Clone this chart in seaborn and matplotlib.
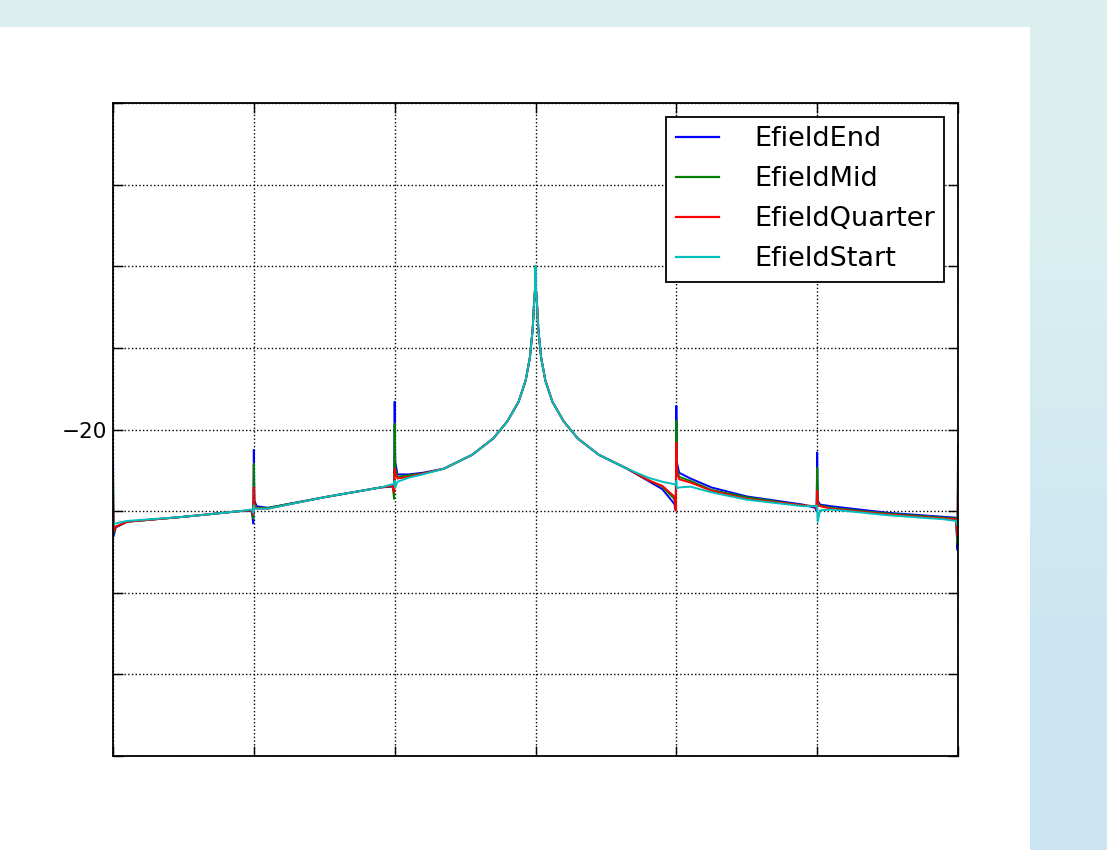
import numpy as np
import pandas as pd
import seaborn as sns
from matplotlib import pyplot as plt
from matplotlib.patches import Rectangle

# positions along the line (grid cells of 1)
x = [0.0, 0.004, 0.02, 0.1, 0.5, 0.9, 0.985, 0.996, 1.0, 1.004, 1.02, 1.1, 1.5, 1.9,
     1.985, 1.996, 2.0, 2.004, 2.02, 2.1, 2.2, 2.35, 2.55, 2.7, 2.8, 2.88, 2.93, 2.96,
     2.98, 2.99, 2.996, 3.0, 3.004, 3.01, 3.02, 3.04, 3.07, 3.12, 3.2, 3.3, 3.45, 3.65,
     3.8, 3.9, 3.985, 3.996, 4.0, 4.004, 4.02, 4.1, 4.25, 4.5, 4.9, 4.985, 4.996, 5.0,
     5.004, 5.02, 5.1, 5.5, 5.9, 5.985, 5.997, 6.0]

efield_end = [-20.38, -21.31, -21.20, -21.13, -21.07, -21.00, -21.00, -21.15, -20.25, -20.87,
              -20.94, -20.96, -20.83, -20.71, -20.70, -20.77, -19.66, -20.40, -20.55, -20.55,
              -20.53, -20.48, -20.31, -20.11, -19.90, -19.66, -19.40, -19.12, -18.77, -18.44,
              -18.30, -18.00, -18.30, -18.44, -18.77, -19.12, -19.40, -19.66, -19.90, -20.11,
              -20.31, -20.48, -20.63, -20.73, -20.91, -20.99, -19.71, -20.40, -20.53, -20.60,
              -20.71, -20.82, -20.92, -20.96, -21.00, -20.28, -20.87, -20.92, -20.94, -21.02,
              -21.07, -21.08, -21.48, -20.17]
efield_mid = [-20.56, -21.27, -21.19, -21.13, -21.07, -21.00, -20.99, -21.09, -20.42, -20.91,
              -20.96, -20.96, -20.83, -20.71, -20.69, -20.85, -19.93, -20.48, -20.58, -20.56,
              -20.54, -20.48, -20.31, -20.11, -19.90, -19.66, -19.40, -19.12, -18.77, -18.44,
              -18.30, -18.00, -18.30, -18.44, -18.77, -19.12, -19.40, -19.66, -19.90, -20.11,
              -20.31, -20.48, -20.62, -20.70, -20.85, -20.94, -19.89, -20.48, -20.58, -20.63,
              -20.74, -20.83, -20.93, -20.94, -20.98, -20.47, -20.91, -20.93, -20.96, -21.03,
              -21.08, -21.09, -21.40, -20.40]
efield_quarter = [-20.87, -21.25, -21.19, -21.13, -21.07, -21.00, -20.99, -21.04, -20.71, -20.93,
                  -20.97, -20.97, -20.83, -20.71, -20.69, -20.77, -20.48, -20.53, -20.60, -20.58,
                  -20.54, -20.48, -20.31, -20.11, -19.90, -19.66, -19.40, -19.12, -18.77, -18.44,
                  -18.30, -18.00, -18.30, -18.44, -18.77, -19.12, -19.40, -19.66, -19.90, -20.11,
                  -20.31, -20.48, -20.62, -20.69, -20.82, -20.99, -20.16, -20.53, -20.61, -20.65,
                  -20.75, -20.85, -20.93, -20.94, -20.98, -20.75, -20.93, -20.94, -20.97, -21.04,
                  -21.09, -21.10, -21.30, -20.65]
efield_start = [-21.13, -21.16, -21.15, -21.12, -21.07, -21.00, -20.98, -21.02, -20.93, -20.97,
                -20.97, -20.97, -20.83, -20.71, -20.67, -20.67, -20.63, -20.71, -20.64, -20.59,
                -20.55, -20.48, -20.31, -20.11, -19.90, -19.66, -19.40, -19.12, -18.77, -18.44,
                -18.30, -18.00, -18.30, -18.44, -18.77, -19.12, -19.40, -19.66, -19.90, -20.11,
                -20.31, -20.48, -20.59, -20.64, -20.67, -20.67, -20.63, -20.72, -20.71, -20.70,
                -20.77, -20.86, -20.94, -20.94, -20.93, -20.94, -21.13, -20.99, -20.98, -21.05,
                -21.10, -21.12, -21.18, -21.05]

names = ["EfieldEnd", "EfieldMid", "EfieldQuarter", "EfieldStart"]
colors = {"EfieldEnd": "#0000ff", "EfieldMid": "#008000",
          "EfieldQuarter": "#ff0000", "EfieldStart": "#00bfbf"}

df = pd.concat([
    pd.DataFrame({"x": x, "y": efield_end, "series": "EfieldEnd"}),
    pd.DataFrame({"x": x, "y": efield_mid, "series": "EfieldMid"}),
    pd.DataFrame({"x": x, "y": efield_quarter, "series": "EfieldQuarter"}),
    pd.DataFrame({"x": x, "y": efield_start, "series": "EfieldStart"}),
])

fig = plt.figure(figsize=(11.07, 8.5), dpi=100)

# page background (light blue gradient) with the white figure area
bg = fig.add_axes([0, 0, 1, 1], zorder=-10)
grad = np.array([[[0.86, 0.93, 0.93], [0.86, 0.94, 0.94]],
                 [[0.83, 0.92, 0.95], [0.80, 0.90, 0.95]]])
bg.imshow(grad, aspect="auto", interpolation="bilinear", extent=[0, 1, 0, 1])
bg.set_axis_off()
bg.add_patch(Rectangle((0, 0), 1030 / 1107, 823 / 850, transform=bg.transAxes,
                       facecolor="white", edgecolor="none"))

ax = fig.add_axes([113 / 1107, 94 / 850, 845 / 1107, 653 / 850])
sns.lineplot(data=df, x="x", y="y", hue="series", palette=colors, hue_order=names,
             estimator=None, sort=False, linewidth=1.4, ax=ax, legend=False)

ax.set_xlim(0, 6)
ax.set_ylim(-24, -16)
ax.set_xticks(range(0, 7))
ax.set_xticklabels([])
ax.set_yticks(range(-24, -15))
ax.set_yticklabels(["\u221220" if v == -20 else "" for v in range(-24, -15)], fontsize=15.5)
ax.set_xlabel("")
ax.set_ylabel("")
ax.tick_params(direction="in", length=7, width=1, top=True, right=True, color="black", pad=4)
ax.grid(True, linestyle=":", color="black", linewidth=1)
for s in ax.spines.values():
    s.set_linewidth(1.3)
    s.set_color("black")

handles = [plt.Line2D([], [], color=colors[n], linewidth=1.6) for n in names]
leg = ax.legend(handles, names, loc="upper right", fontsize=19.5, fancybox=False,
                framealpha=1, edgecolor="black", borderaxespad=0.5, handlelength=1.6,
                handletextpad=1.3, labelspacing=0.52, borderpad=0.35)
leg.get_frame().set_linewidth(1.3)

fig.savefig("out.png", dpi=100)
